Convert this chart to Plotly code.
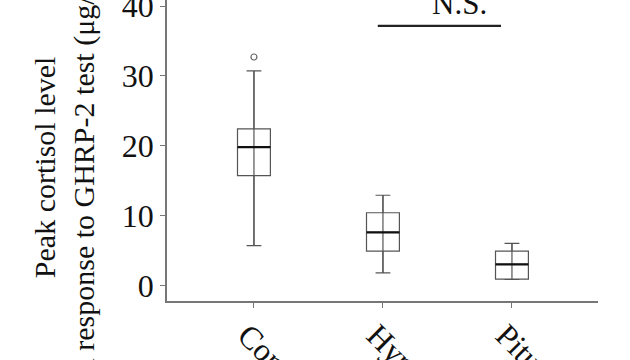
import plotly.graph_objects as go

categories = ["Control", "Hypothalamic", "Pituitary"]
lower_whisker = [5.7, 1.8, 0.85]
q1_vals = [15.7, 4.9, 0.9]
median_vals = [19.8, 7.6, 3.0]
q3_vals = [22.4, 10.4, 4.9]
upper_whisker = [30.7, 12.9, 6.0]
outlier_cat = [0]
outlier_vals = [32.7]
y_ticks = [0, 10, 20, 30, 40]

pos = list(range(len(categories)))
BOX_W = 0.255
FONT = "Liberation Serif"

fig = go.Figure()

fig.add_trace(go.Box(
    x=pos, q1=q1_vals, median=median_vals, q3=q3_vals,
    lowerfence=lower_whisker, upperfence=upper_whisker,
    width=BOX_W, whiskerwidth=0.45,
    fillcolor="rgba(0,0,0,0)",
    line=dict(color="#555555", width=1.2),
    boxpoints=False, showlegend=False, hoverinfo="skip",
))

# vertical line through the box (whisker to whisker)
vx, vy = [], []
for p, lo, hi in zip(pos, lower_whisker, upper_whisker):
    vx += [p, p, None]
    vy += [lo, hi, None]
fig.add_trace(go.Scatter(x=vx, y=vy, mode="lines",
                         line=dict(color="#555555", width=1.2),
                         showlegend=False, hoverinfo="skip"))

# thick median
mx, my = [], []
for p, m in zip(pos, median_vals):
    mx += [p - BOX_W / 2, p + BOX_W / 2, None]
    my += [m, m, None]
fig.add_trace(go.Scatter(x=mx, y=my, mode="lines",
                         line=dict(color="#111111", width=2.2),
                         showlegend=False, hoverinfo="skip"))

fig.add_trace(go.Scatter(x=outlier_cat, y=outlier_vals, mode="markers",
                         marker=dict(symbol="circle-open", size=6,
                                     color="#666666", line=dict(width=1.2)),
                         showlegend=False, hoverinfo="skip"))

# N.S. bracket
fig.add_shape(type="line", xref="x", yref="y", x0=0.96, x1=1.915, y0=37.15, y1=37.15,
              line=dict(color="#222222", width=2.2))
fig.add_annotation(x=1.59, y=37.5, xref="x", yref="y", text="N.S.", showarrow=False,
                   yanchor="bottom", font=dict(family=FONT, size=31, color="#111111"))

# y-axis title
fig.add_annotation(xref="paper", yref="paper", x=-0.24, y=0.445,
                   text="Peak cortisol level<br>in response to GHRP-2 test (μg/dL)",
                   textangle=-90, showarrow=False, xanchor="center", yanchor="middle",
                   font=dict(family=FONT, size=30, color="#111111"))

fig.update_layout(
    width=630, height=360,
    margin=dict(l=167, r=32, t=0, b=59, autoexpand=False),
    paper_bgcolor="white", plot_bgcolor="white",
    font=dict(family=FONT, size=30, color="#111111"),
    xaxis=dict(range=[-0.674, 2.667], tickvals=pos, ticktext=categories,
               tickangle=45, showline=True, linecolor="#777777", linewidth=1.5,
               ticks="outside", ticklen=5, tickcolor="#777777", showgrid=False,
               zeroline=False, automargin=False, ticklabeloverflow="allow",
               ticklabelshift=-7, ticklabelstandoff=-4,
               tickfont=dict(family=FONT, size=32, color="#111111")),
    yaxis=dict(range=[-2.24, 40.86], tickvals=y_ticks, showline=True,
               linecolor="#777777", linewidth=1.5, ticks="outside", ticklen=5,
               tickcolor="#777777", showgrid=False, zeroline=False, automargin=False,
               ticklabeloverflow="allow",
               tickfont=dict(family=FONT, size=32, color="#111111")),
)

fig.write_html("out.html", config={"displayModeBar": False},
               post_script="document.body.style.margin='0';document.body.style.overflow='hidden';")
